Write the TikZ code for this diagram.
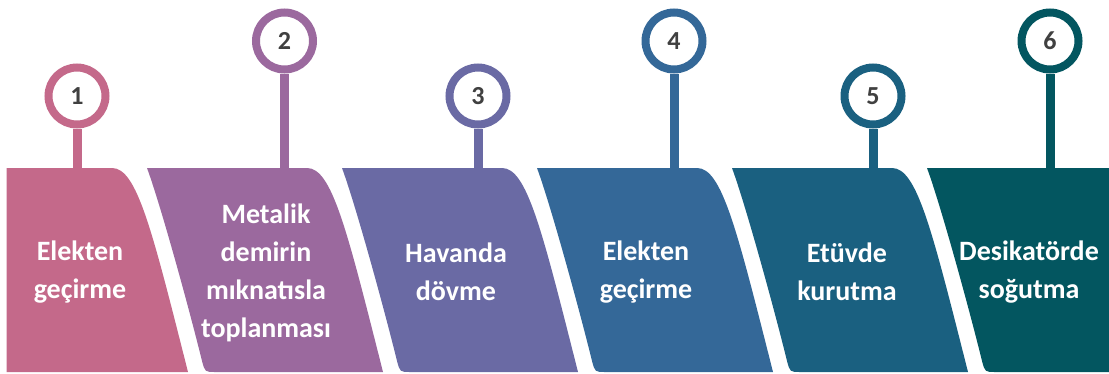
\documentclass[tikz,border=0pt]{standalone}
\usepackage{fontspec}
\setmainfont{Carlito}
\definecolor{cA}{HTML}{C4698A}
\definecolor{cB}{HTML}{9B699E}
\definecolor{cC}{HTML}{6A6AA4}
\definecolor{cD}{HTML}{346898}
\definecolor{cE}{HTML}{1A6080}
\definecolor{cF}{HTML}{035660}
\definecolor{numgray}{HTML}{404040}
\tikzset{
  lbl/.style={text=white, font=\bfseries\fontsize{28}{38}\selectfont, align=center, inner sep=0pt},
  ring/.style={circle, draw=#1, line width=8pt, fill=white, minimum size=57pt, inner sep=0pt,
    text=numgray, font=\bfseries\fontsize{26}{30}\selectfont},
  stem/.style={draw=#1, line width=9pt},
}
\begin{document}
\begin{tikzpicture}[x=1pt,y=-1pt]
\useasboundingbox (0,0) rectangle (1109,373);
% shape 1 (x0=-48)
\fill[cA] (6.7,168) -- (112,168) .. controls (137,168) and (152,230) .. (188,372) -- (6.7,372) -- cycle;
% shapes 2-5
\foreach \xo/\col in {147/cB, 342/cC, 537/cD, 732/cE}{
  \fill[\col] (\xo,168) -- ({\xo+160},168) .. controls ({\xo+185},168) and ({\xo+200},230) .. ({\xo+236},372)
    -- ({\xo+68},372) .. controls ({\xo+58},372) .. ({\xo+55},361)
    .. controls ({\xo+43},312) and ({\xo+14},206) .. (\xo,168) -- cycle;
}
% shape 6 (x0=927)
\fill[cF] (927,168) -- (1109,168) -- (1109,372) -- (995,372) .. controls (985,372) .. (982,361)
    .. controls (970,312) and (941,206) .. (927,168) -- cycle;
% anchor coordinates on shape tops
\coordinate (s1) at (77,168);
\coordinate (s2) at (284.5,168);
\coordinate (s3) at (478,168);
\coordinate (s4) at (674,168);
\coordinate (s5) at (873,168);
\coordinate (s6) at (1050,168);
% circles
\node[ring=cA] (c1) at (77,96) {1};
\node[ring=cB] (c2) at (284.5,41) {2};
\node[ring=cC] (c3) at (478,96) {3};
\node[ring=cD] (c4) at (674,41) {4};
\node[ring=cE] (c5) at (873,96) {5};
\node[ring=cF] (c6) at (1050,41) {6};
% stems
\draw[stem=cA] (c1.south) -- (s1);
\draw[stem=cB] (c2.south) -- (s2);
\draw[stem=cC] (c3.south) -- (s3);
\draw[stem=cD] (c4.south) -- (s4);
\draw[stem=cE] (c5.south) -- (s5);
\draw[stem=cF] (c6.south) -- (s6);
% labels
\node[lbl] (t1) at (80,272) {Elekten\\geçirme};
\node[lbl] (t2) at (266,273) {Metalik\\demirin\\mıknatısla\\toplanması};
\node[lbl] (t3) at (456,272) {Havanda\\dövme};
\node[lbl] (t4) at (646,272) {Elekten\\geçirme};
\node[lbl] (t5) at (847,272) {Etüvde\\kurutma};
\node[lbl] (t6) at (1029,272) {Desikatörde\\soğutma};
\end{tikzpicture}
\end{document}
